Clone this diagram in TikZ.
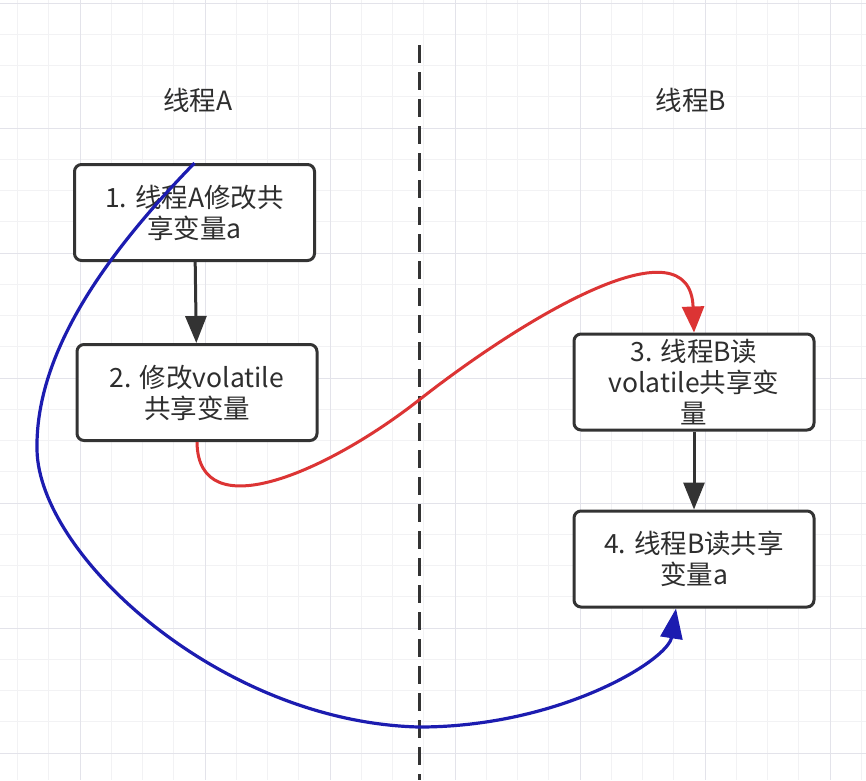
\documentclass[tikz,border=0pt]{standalone}
\usepackage{fontspec}
\setmainfont{Noto Sans CJK SC}
\usetikzlibrary{arrows.meta}
\definecolor{gridminor}{HTML}{F2F2F4}
\definecolor{gridmajor}{HTML}{E3E3EA}
\definecolor{boxline}{HTML}{333333}
\definecolor{textgray}{HTML}{2E2E2E}
\definecolor{flowred}{HTML}{DC3434}
\definecolor{flowblue}{HTML}{1C1CB0}

\tikzset{
  stepbox/.style={draw=boxline, fill=white, line width=3pt, rounded corners=7pt,
    minimum width=240pt, minimum height=96pt, inner sep=0pt, align=center,
    text=textgray, font=\fontsize{26.5}{31}\selectfont},
  thread/.style={text=textgray, font=\fontsize{26.5}{31}\selectfont},
  flow/.style={draw=boxline, line width=3pt, -{Triangle[width=21pt,length=27pt]}},
  redflow/.style={draw=flowred, line width=3pt, -{Triangle[width=22pt,length=26pt]}},
  blueflow/.style={draw=flowblue, line width=3.2pt, -{Triangle[width=22pt,length=30pt]}}
}

\begin{document}
\begin{tikzpicture}[x=1pt, y=-1pt]
\useasboundingbox (0,0) rectangle (866,780);
\fill[white] (0,0) rectangle (866,780);

% grid
\foreach \i in {0,...,27}
\draw[gridminor, line width=1pt] (17.5+31.25*\i,0) -- (17.5+31.25*\i,780);
\foreach \j in {0,...,24}
\draw[gridminor, line width=1pt] (0,3+31.25*\j) -- (866,3+31.25*\j);
\foreach \i in {0,...,6}
\draw[gridmajor, line width=1pt] (80+125*\i,0) -- (80+125*\i,780);
\foreach \j in {0,...,6}
\draw[gridmajor, line width=1pt] (0,3+125*\j) -- (866,3+125*\j);

% separator
\draw[boxline, line width=3pt, dash pattern=on 18pt off 9pt] (419,45) -- (419,780);

\node[thread] (ta) at (198,100) {线程A};
\node[thread] (tb) at (691,100) {线程B};

\node[stepbox] (b1) at (194.5,212.5) {1. 线程A修改共\\享变量a};
\node[stepbox] (b2) at (197,392.5) {2. 修改volatile\\共享变量};
\node[stepbox] (b3) at (694,382) {3. 线程B读\\volatile共享变\\量};
\node[stepbox] (b4) at (694,559) {4. 线程B读共享\\变量a};

\draw[flow] (b1) -- (b2);
\draw[flow] (b3) -- (b4);

\draw[redflow] (b2.south) .. controls (198,530) and (330,470) .. (419,400)
  .. controls (530,313) and (690,220) .. (b3.north);
\draw[blueflow] (b1.north) .. controls (110,250) and (35,350) .. (37,450)
  .. controls (39,555) and (220,722) .. (419,727)
  .. controls (560,727) and (668,660) .. ([xshift=-18pt]b4.south);
\end{tikzpicture}
\end{document}
